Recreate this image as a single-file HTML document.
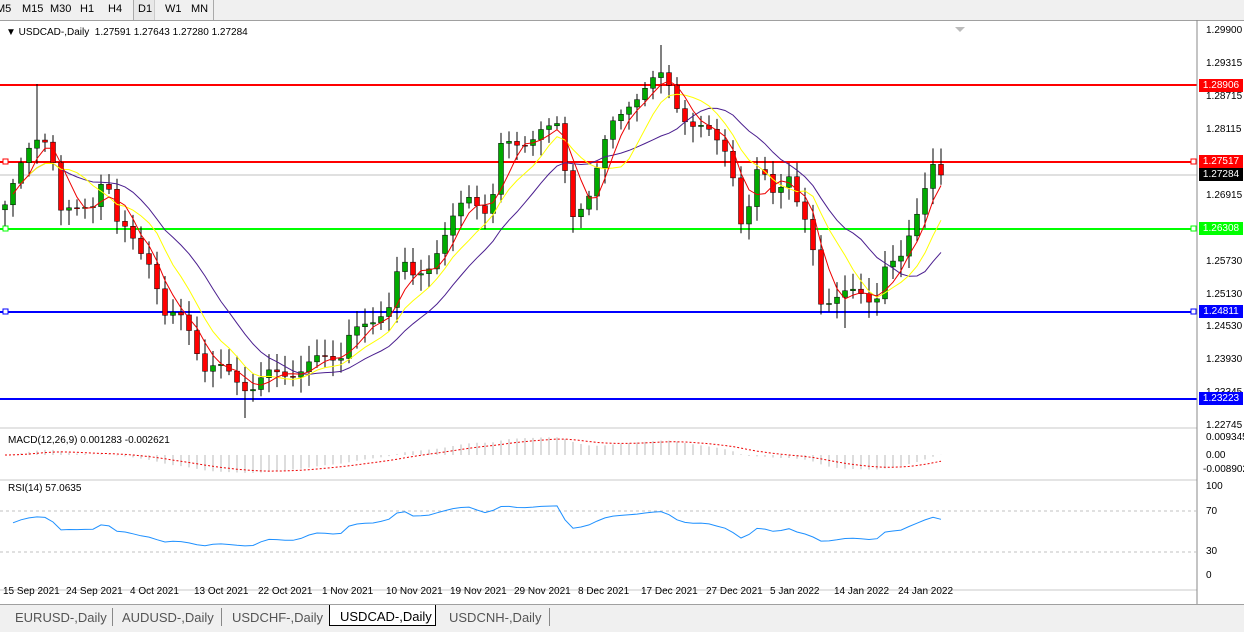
<!DOCTYPE html>
<html><head><meta charset="utf-8"><style>
body{margin:0;width:1244px;height:631px;background:#fff;overflow:hidden;font-family:"Liberation Sans",sans-serif;position:relative}
.tb{position:absolute;top:0;left:0;width:1244px;height:20px;background:#f0f0f0;border-bottom:1px solid #a0a0a0;font-size:11px;color:#000}
.tb span{position:absolute;top:3px}
.ax{position:absolute;font-size:10px;color:#000;left:1206px}
.lb{position:absolute;left:1199px;width:44px;height:13px;font-size:10px;color:#fff;text-align:center;line-height:13px}
.dt{position:absolute;top:586px;font-size:10px;white-space:nowrap}
.tabs{position:absolute;top:604px;left:0;width:1244px;height:27px;background:#f0f0f0;border-top:1px solid #a0a0a0;font-size:13px;color:#555}
.tabs span{position:absolute;top:5px;white-space:nowrap}
</style></head><body>
<div class="tb"><span style="left:-4px">M5</span><span style="left:22px">M15</span><span style="left:50px">M30</span><span style="left:80px">H1</span><span style="left:108px">H4</span><span style="left:133px;top:0;height:20px;width:22px;background:#e8e8e8;border-left:1px solid #aaa;border-right:1px solid #ccc;padding:3px 0 0 4px;box-sizing:border-box">D1</span><span style="left:165px">W1</span><span style="left:191px">MN</span><span style="left:213px;top:0;height:20px;border-left:1px solid #aaa"></span></div>
<div style="position:absolute;left:6px;top:27px;font-size:10px">▼ USDCAD-,Daily&nbsp; 1.27591 1.27643 1.27280 1.27284</div>
<svg id="s" width="1244" height="631" style="position:absolute;left:0;top:0"></svg>
<div class="ax" style="top:25px">1.29900</div><div class="ax" style="top:58px">1.29315</div><div class="ax" style="top:91px">1.28715</div><div class="ax" style="top:124px">1.28115</div><div class="ax" style="top:190px">1.26915</div><div class="ax" style="top:256px">1.25730</div><div class="ax" style="top:289px">1.25130</div><div class="ax" style="top:321px">1.24530</div><div class="ax" style="top:354px">1.23930</div><div class="ax" style="top:387px">1.23345</div><div class="ax" style="top:420px">1.22745</div>
<div class="ax" style="top:432px">0.009345</div><div class="ax" style="top:450px">0.00</div><div class="ax" style="top:464px;left:1203px">-0.008902</div>
<div class="ax" style="top:481px">100</div><div class="ax" style="top:506px">70</div><div class="ax" style="top:546px">30</div><div class="ax" style="top:570px">0</div>
<div class="lb" style="top:79px;background:#f00">1.28906</div><div class="lb" style="top:155px;background:#f00">1.27517</div><div class="lb" style="top:168px;background:#000">1.27284</div><div class="lb" style="top:222px;background:#0f0">1.26308</div><div class="lb" style="top:305px;background:#00f">1.24811</div><div class="lb" style="top:392px;background:#00f">1.23223</div>
<div style="position:absolute;left:8px;top:435px;font-size:10px">MACD(12,26,9) 0.001283 -0.002621</div>
<div style="position:absolute;left:8px;top:483px;font-size:10px">RSI(14) 57.0635</div>
<div class="dt" style="left:3px">15 Sep 2021</div><div class="dt" style="left:66px">24 Sep 2021</div><div class="dt" style="left:130px">4 Oct 2021</div><div class="dt" style="left:194px">13 Oct 2021</div><div class="dt" style="left:258px">22 Oct 2021</div><div class="dt" style="left:322px">1 Nov 2021</div><div class="dt" style="left:386px">10 Nov 2021</div><div class="dt" style="left:450px">19 Nov 2021</div><div class="dt" style="left:514px">29 Nov 2021</div><div class="dt" style="left:578px">8 Dec 2021</div><div class="dt" style="left:641px">17 Dec 2021</div><div class="dt" style="left:706px">27 Dec 2021</div><div class="dt" style="left:770px">5 Jan 2022</div><div class="dt" style="left:834px">14 Jan 2022</div><div class="dt" style="left:898px">24 Jan 2022</div>
<div class="tabs"><span style="left:15px">EURUSD-,Daily</span><span style="left:112px;top:3px;height:18px;border-left:1px solid #888"></span><span style="left:122px">AUDUSD-,Daily</span><span style="left:221px;top:3px;height:18px;border-left:1px solid #888"></span><span style="left:232px">USDCHF-,Daily</span><span style="left:329px;top:0;width:107px;height:21px;background:#fff;border:1px solid #000;border-top:none;color:#000;padding:4px 0 0 10px;box-sizing:border-box">USDCAD-,Daily</span><span style="left:449px">USDCNH-,Daily</span><span style="left:549px;top:3px;height:18px;border-left:1px solid #888"></span></div>
<script>
var S=document.getElementById('s'),h='';
function L(x1,y1,x2,y2,c,w,d){h+='<line x1="'+x1+'" y1="'+y1+'" x2="'+x2+'" y2="'+y2+'" stroke="'+c+'" stroke-width="'+(w||1)+'"'+(d?' stroke-dasharray="'+d+'"':'')+'/>';}
function P(a,c,w,d){h+='<polyline fill="none" points="'+a.join(' ')+'" stroke="'+c+'" stroke-width="'+(w||1)+'"'+(d?' stroke-dasharray="'+d+'"':'')+'/>';}
var K=[[5,200],[20,170],[36,140],[50,135],[60,210],[75,215],[95,200],[105,165],[115,225],[130,235],[150,260],[165,320],[185,315],[205,370],[225,370],[240,380],[250,390],[270,375],[300,370],[320,360],[340,355],[350,330],[370,330],[390,300],[400,255],[415,285],[430,265],[440,240],[455,215],[470,200],[490,210],[500,145],[520,150],[540,125],[560,130],[570,220],[590,190],[610,130],[630,100],[650,85],[665,75],[675,100],[690,125],[710,135],[730,150],[740,225],[750,210],[760,160],[770,190],[790,175],[800,220],[810,230],[820,300],[840,295],[860,295],[875,300],[885,265],[900,265],[910,235],[920,200],[930,165],[940,155],[947,175]];
function itp(x){for(var i=1;i<K.length;i++)if(x<=K[i][0]){var a=K[i-1],b=K[i];return a[1]+(b[1]-a[1])*(x-a[0])/(b[0]-a[0]);}return 175;}
var xs=[],C=[];for(var x=5;x<=947;x+=8){xs.push(x);C.push(itp(x)+Math.sin(x*1.7)*6);}
C[C.length-1]=175;
L(0,175,1197,175,'#c0c0c0');
[[85,'#f00'],[162,'#f00'],[229,'#0f0'],[312,'#00f'],[399,'#00f']].forEach(function(l){L(0,l[0],1197,l[0],l[1],2);if(l[0]!=85&&l[0]!=399){h+='<rect x="3" y="'+(l[0]-3)+'" width="5" height="5" fill="#fff" stroke="'+l[1]+'"/><rect x="1191" y="'+(l[0]-3)+'" width="5" height="5" fill="#fff" stroke="'+l[1]+'"/>';}});
for(var i=0;i<xs.length;i++){var o=i?C[i-1]:C[0]+5,c=C[i],x=xs[i];var hi=Math.min(o,c)-4-Math.abs(Math.sin(i*3.1))*12,lo=Math.max(o,c)+4+Math.abs(Math.cos(i*2.3))*12;if(i==4)hi=84;if(i==82)hi=45;if(i==105)lo=328;if(i==30)lo=418;
L(x,hi,x,lo,'#000');var col=c<o?'#0a0':'#f00';var t=Math.min(o,c),bh=Math.max(1,Math.abs(c-o));h+='<rect x="'+(x-2.5)+'" y="'+t+'" width="5" height="'+bh+'" fill="'+col+'" stroke="#000" stroke-width="0.5"/>';}
function sma(n){var r=[];for(var i=0;i<C.length;i++){var s=0,k=0;for(var j=Math.max(0,i-n+1);j<=i;j++){s+=C[j];k++;}r.push(xs[i]+','+(s/k).toFixed(1));}return r;}
P(sma(14).slice(3),'#4b1f8f');P(sma(8).slice(2),'#ff0');P(sma(4).slice(1),'#e00');
L(0,428,1197,428,'#c8c8c8');L(0,480,1197,480,'#c8c8c8');L(0,590,1197,590,'#c8c8c8');L(1197,20,1197,604,'#888');
function ema(a,n){var k=2/(n+1),r=[a[0]];for(var i=1;i<a.length;i++)r.push(a[i]*k+r[i-1]*(1-k));return r;}
var e1=ema(C,12),e2=ema(C,26),m=[];for(var i=0;i<C.length;i++)m.push(e2[i]-e1[i]);var sg=ema(m,9),mx=0;m.forEach(function(v){mx=Math.max(mx,Math.abs(v));});
var sc=18/mx,sp=[];for(var i=0;i<C.length;i++){L(xs[i],455,xs[i],455-m[i]*sc,'#bbb');sp.push(xs[i]+','+(455-sg[i]*sc).toFixed(1));}
P(sp,'#e00',1,'2,2');
L(0,511,1197,511,'#c0c0c0',1,'3,3');L(0,552,1197,552,'#c0c0c0',1,'3,3');
var rp=[],g=6,ls=6;for(var i=1;i<C.length;i++){var d=C[i-1]-C[i];var gg=d>0?d:0,ll=d<0?-d:0;g=(g*13+gg)/14;ls=(ls*13+ll)/14;var r=100-100/(1+g/ls);r=48+(r-50)*0.6;rp.push(xs[i]+','+(576-r*1.03).toFixed(1));}
P(rp,'#1e90ff');
h+='<polygon points="955,27 965,27 960,32" fill="#bbb"/>';
S.innerHTML=h;
</script>
</body></html>
